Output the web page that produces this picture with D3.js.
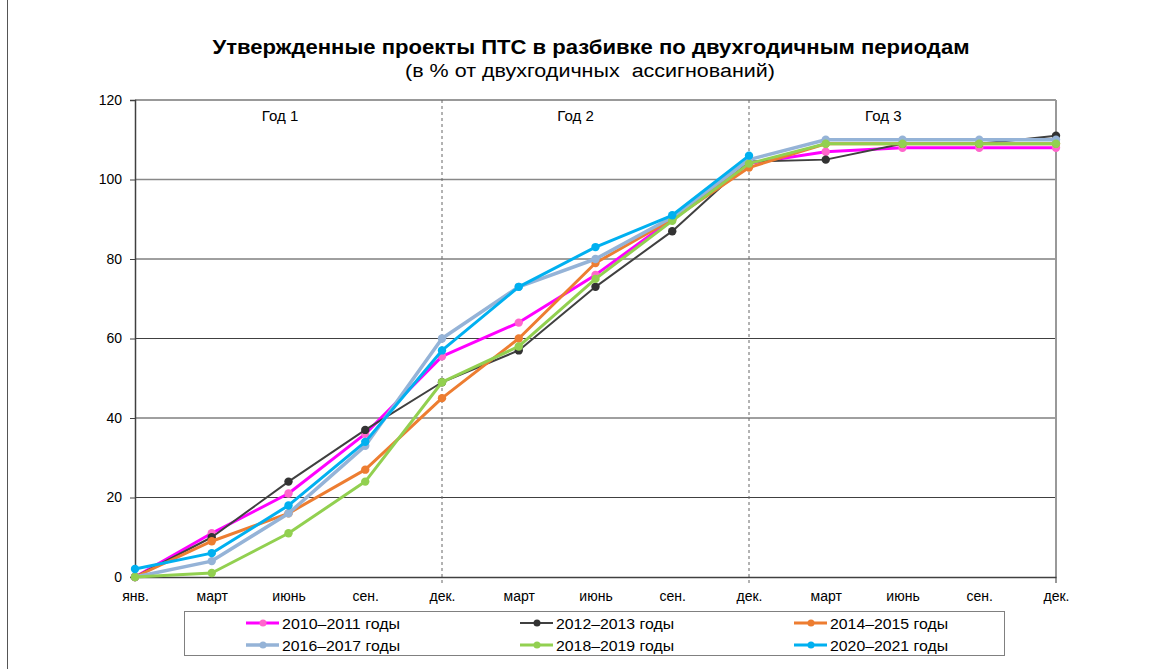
<!DOCTYPE html>
<html>
<head>
<meta charset="utf-8">
<script src="https://cdn.jsdelivr.net/npm/d3@7"></script>
<style>
  body { margin: 0; background: #fff; }
  svg { display: block; font-family: "Liberation Sans", Arial, sans-serif; }
</style>
</head>
<body>
<svg id="chart" width="1170" height="669"></svg>
<script>
var months = ['янв.', 'март', 'июнь', 'сен.', 'дек.', 'март', 'июнь', 'сен.', 'дек.', 'март', 'июнь', 'сен.', 'дек.'];
var year_labels = ['Год 1', 'Год 2', 'Год 3'];
var year_label_pos = [1.89, 5.74, 9.75];   // in month-index units
var y_ticks = [0, 20, 40, 60, 80, 100, 120];

var series_names = ['2010–2011 годы', '2012–2013 годы', '2014–2015 годы', '2016–2017 годы', '2018–2019 годы', '2020–2021 годы'];
var series_colors = ['#ff00ff', '#404040', '#ed7d31', '#95b3d7', '#92d050', '#00b0f0'];
var marker_colors = ['#ff66cc', '#333333', '#ed7d31', '#95b3d7', '#92d050', '#00b0f0'];
var line_widths = [3, 2, 3, 3.5, 3, 3];

var s2010 = [0, 11, 21, 36, 55.5, 64, 76, 90, 104, 107, 108, 108, 108];
var s2012 = [0, 10, 24, 37, 49, 57, 73, 87, 104.5, 105, 109, 109, 111];
var s2014 = [0, 9, 16, 27, 45, 60, 79, 90, 103, 109, 109, 109, 109];
var s2016 = [0, 4, 16, 33, 60, 73, 80, 90.5, 105, 110, 110, 110, 110];
var s2018 = [0, 1, 11, 24, 49, 58, 75, 89.6, 104, 109, 109, 109, 109];
var s2020 = [2, 6, 18, 34, 57, 73, 83, 91, 106];
var series_values = [s2010, s2012, s2014, s2016, s2018, s2020];

var svg = d3.select('#chart');

// figure border on the left
svg.append('line')
   .attr('x1', 7.5).attr('x2', 7.5).attr('y1', 0).attr('y2', 669)
   .attr('stroke', '#555').attr('stroke-width', 1);

// titles
svg.append('text')
   .attr('x', 591).attr('y', 54)
   .attr('text-anchor', 'middle')
   .attr('font-size', 20).attr('font-weight', 'bold')
   .attr('textLength', 757).attr('lengthAdjust', 'spacingAndGlyphs')
   .text('Утвержденные проекты ПТС в разбивке по двухгодичным периодам');
svg.append('text')
   .attr('x', 590).attr('y', 77)
   .attr('text-anchor', 'middle')
   .attr('font-size', 18)
   .style('white-space', 'pre')
   .attr('textLength', 370).attr('lengthAdjust', 'spacingAndGlyphs')
   .text('(в % от двухгодичных  ассигнований)');

var x = d3.scalePoint().domain(d3.range(months.length)).range([135, 1056]);
var y = d3.scaleLinear().domain([0, 120]).range([577, 100]);
var xc = d3.scaleLinear().domain([0, months.length - 1]).range([135, 1056]);

// horizontal grid
svg.append('g').selectAll('line')
   .data(y_ticks.filter(function(d) { return d > 0; }))
   .enter().append('line')
   .attr('x1', x(0)).attr('x2', x(12))
   .attr('y1', function(d) { return y(d); })
   .attr('y2', function(d) { return y(d); })
   .attr('stroke', function(d) { return d === 120 ? '#999' : (d === 100 ? '#888' : '#404040'); })
   .attr('stroke-width', function(d) { return d === 120 ? 2 : (d === 100 ? 1.5 : 1); });

// dashed year separators
svg.append('g').selectAll('line')
   .data([4, 8])
   .enter().append('line')
   .attr('x1', function(d) { return x(d); })
   .attr('x2', function(d) { return x(d); })
   .attr('y1', y(120)).attr('y2', y(0) + 6)
   .attr('stroke', '#666').attr('stroke-width', 1)
   .attr('stroke-dasharray', '3,3');

// right border
svg.append('line')
   .attr('x1', x(12)).attr('x2', x(12)).attr('y1', y(120)).attr('y2', y(0) + 6)
   .attr('stroke', '#999').attr('stroke-width', 2);

// y axis
var yAxis = svg.append('g')
   .attr('transform', 'translate(' + x(0) + ',0)')
   .call(d3.axisLeft(y).tickValues(y_ticks).tickSize(5).tickPadding(8));
yAxis.select('.domain').attr('stroke', '#404040').attr('stroke-width', 1.5);
yAxis.selectAll('.tick line').attr('stroke', '#404040');
yAxis.selectAll('text').attr('font-size', 14).attr('fill', '#000')
     .attr('font-family', '"Liberation Sans", Arial, sans-serif');

// x axis
var xAxis = svg.append('g')
   .attr('transform', 'translate(0,' + y(0) + ')')
   .call(d3.axisBottom(x).tickFormat(function(i) { return months[i]; }).tickSize(0).tickPadding(14));
xAxis.select('.domain').attr('stroke', '#404040').attr('stroke-width', 1.5);
xAxis.selectAll('text').attr('font-size', 14).attr('fill', '#000')
     .attr('font-family', '"Liberation Sans", Arial, sans-serif');

// year labels
svg.append('g').selectAll('text')
   .data(year_labels)
   .enter().append('text')
   .attr('x', function(d, i) { return xc(year_label_pos[i]); })
   .attr('y', 121)
   .attr('text-anchor', 'middle')
   .attr('font-size', 15)
   .text(function(d) { return d; });

// series
var line = d3.line()
   .x(function(d, i) { return x(i); })
   .y(function(d) { return y(d); });

series_values.forEach(function(vals, k) {
    var g = svg.append('g');
    g.append('path')
     .datum(vals)
     .attr('d', line)
     .attr('fill', 'none')
     .attr('stroke', series_colors[k])
     .attr('stroke-width', line_widths[k])
     .attr('stroke-linejoin', 'round');
    g.selectAll('circle')
     .data(vals)
     .enter().append('circle')
     .attr('cx', function(d, i) { return x(i); })
     .attr('cy', function(d) { return y(d); })
     .attr('r', 4.2)
     .attr('fill', marker_colors[k]);
});

// legend
var legend = svg.append('g');
legend.append('rect')
   .attr('x', 184.5).attr('y', 611.5).attr('width', 820).attr('height', 44)
   .attr('fill', '#fff').attr('stroke', '#808080').attr('stroke-width', 1);

var leg_x = [246, 520, 794];
var leg_y = [623, 645];
series_names.forEach(function(name, k) {
    var cx = leg_x[k % 3], cy = leg_y[Math.floor(k / 3)];
    legend.append('line')
       .attr('x1', cx).attr('x2', cx + 33).attr('y1', cy).attr('y2', cy)
       .attr('stroke', series_colors[k]).attr('stroke-width', line_widths[k]);
    legend.append('circle')
       .attr('cx', cx + 17).attr('cy', cy).attr('r', 3.5)
       .attr('fill', marker_colors[k]);
    legend.append('text')
       .attr('x', cx + 36).attr('y', cy + 5.5)
       .attr('font-size', 15.5)
       .attr('textLength', 118).attr('lengthAdjust', 'spacingAndGlyphs')
       .text(name);
});
</script>
</body>
</html>
